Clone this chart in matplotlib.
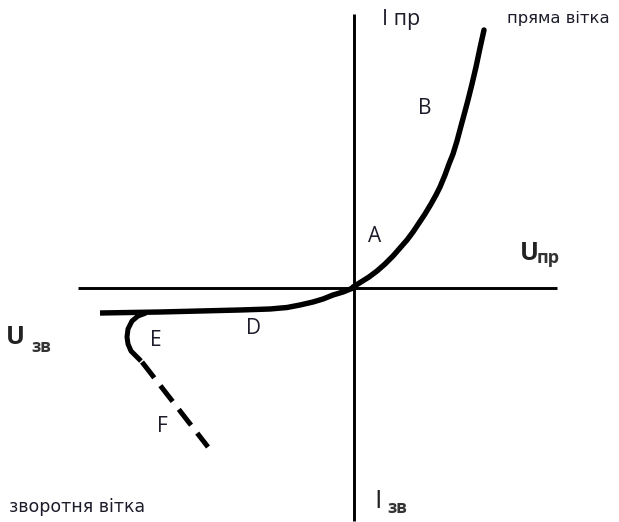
import matplotlib.pyplot as plt

plt.rcParams['font.family'] = ['Open Sans', 'DejaVu Sans']

# координати осей (пікселі малюнка)
axis_h_x = [78, 557]
axis_h_y = [288, 288]
axis_v_x = [354, 354]
axis_v_y = [14, 521]

# пряма вітка
fwd_x = [353, 361, 369, 377, 385, 393, 400, 407, 413, 419, 425, 431, 436, 440, 445,
         449, 453, 457, 461, 464, 468, 472, 476, 480, 484]
fwd_y = [287, 282, 277, 271, 264, 256, 248, 240, 232, 223, 214, 204, 195, 187, 175,
         164, 154, 141, 126, 115, 100, 84, 67, 48, 30]

# зворотня вітка
rev_x = [353, 343, 333, 323, 313, 300, 287, 270, 240, 200, 160, 130, 100]
rev_y = [288, 292, 295, 299, 302, 305, 307.5, 309, 310, 311, 312, 312.5, 313]

# пробій (E)
hook_x = [146, 138, 132, 128, 127, 128, 131, 136, 141]
hook_y = [313, 316, 321, 329, 337, 344, 351, 356, 361]

# пунктир (F)
dash_x = [142, 208]
dash_y = [362, 447]

fig = plt.figure(figsize=(6.19, 5.22), dpi=100)
ax = fig.add_axes([0, 0, 1, 1])
ax.set_xlim(0, 619)
ax.set_ylim(522, 0)
ax.axis('off')

ax.plot(axis_h_x, axis_h_y, color='black', lw=2.1, solid_capstyle='butt')
ax.plot(axis_v_x, axis_v_y, color='black', lw=2.1, solid_capstyle='butt')

ax.plot(fwd_x, fwd_y, color='black', lw=3.9, solid_capstyle='round', solid_joinstyle='round')
ax.plot(rev_x, rev_y, color='black', lw=3.9, solid_capstyle='butt', solid_joinstyle='round')
ax.plot(hook_x, hook_y, color='black', lw=3.6, solid_capstyle='butt', solid_joinstyle='round')
ax.plot(dash_x, dash_y, color='black', lw=3.6, dashes=[4.0, 2.0])

# підписи
ink = '#1c1c2a'
ax.text(382, 19, 'I пр', fontsize=15.5, va='center', ha='left', color=ink)
ax.text(507, 18, 'пряма вітка', fontsize=11.8, va='center', ha='left', color=ink,
        family='DejaVu Sans')
ax.text(425, 108, 'B', fontsize=15, va='center', ha='center', color=ink)
ax.text(375, 237, 'A', fontsize=15, va='center', ha='center', color=ink)
ax.text(520, 254, 'U', fontsize=18, va='center', ha='left', fontweight='bold', color='#222222')
ax.text(537, 258, 'пр', fontsize=13, va='center', ha='left', fontweight='bold', color='#333333')
ax.text(156, 340, 'E', fontsize=15, va='center', ha='center', color=ink)
ax.text(254, 328, 'D', fontsize=15, va='center', ha='center', color=ink)
ax.text(162, 427, 'F', fontsize=15, va='center', ha='center', color=ink)
ax.text(6, 337, 'U', fontsize=18, va='center', ha='left', fontweight='bold', color='#222222')
ax.text(31, 347, 'зв', fontsize=12, va='center', ha='left', fontweight='bold', color='#333333')
ax.text(9, 507, 'зворотня вітка', fontsize=12.5, va='center', ha='left', color=ink,
        family='DejaVu Sans')
ax.text(374, 502, 'I', fontsize=19, va='center', ha='left', color='#222222')
ax.text(387, 508, 'зв', fontsize=12, va='center', ha='left', fontweight='bold', color='#333333')

fig.savefig('out.png', dpi=100)
